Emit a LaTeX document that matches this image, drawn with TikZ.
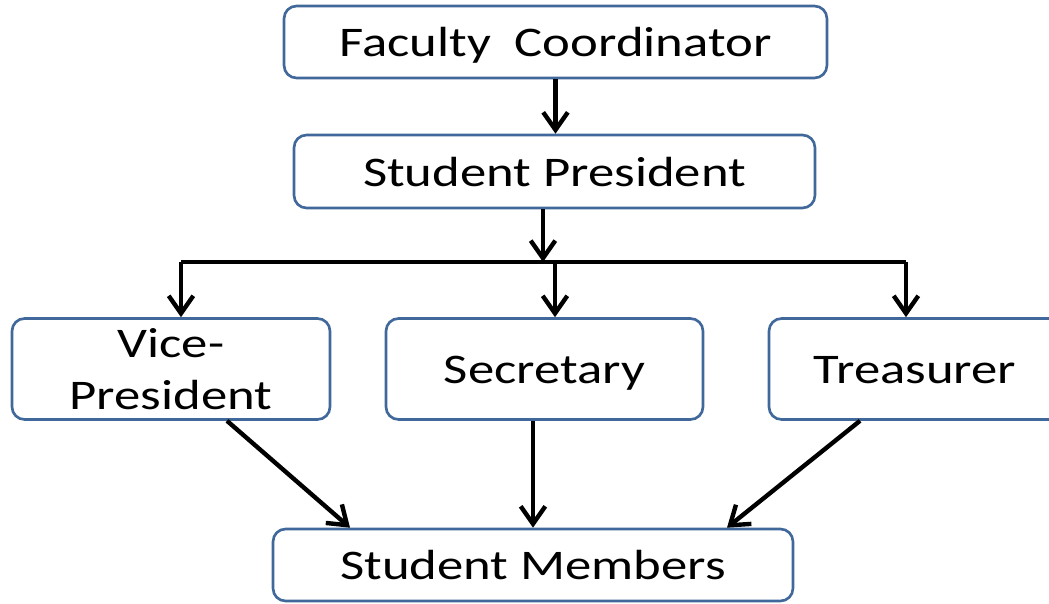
\documentclass[tikz,border=0pt]{standalone}
\usepackage{fontspec}
\setmainfont{Carlito}[FakeStretch=1.25]
\usepackage{xcolor}
\usepackage{tikz}
\usetikzlibrary{arrows.meta}
\usetikzlibrary{calc}
\definecolor{boxblue}{RGB}{65,104,155}
\tikzset{
    tnode/.style = {align=center, inner sep=0pt, text centered, font=\fontsize{24}{29.5}\selectfont},
    box_node/.style = {tnode, rectangle, rounded corners=0.25cm, draw=boxblue, fill=white, line width=1.5pt},
    one_line/.style = {text height=21.5pt, text depth=4.5pt},
    link/.style = {black, line width=2.5pt}
}

\begin{document}
\begin{tikzpicture}
    [x=0.02cm, y=-0.02cm,
    >={Straight Barb[length=10pt,width=14pt]}]
    \useasboundingbox (0,0) rectangle (1049,603);

    % boxes
    \node [box_node, one_line, minimum width=10.86cm, minimum height=1.44cm] (fac) at (555.5,42) {Faculty\ \ Coordinator};
    \node [box_node, one_line, minimum width=10.42cm, minimum height=1.46cm] (pres) at (554.5,171.5) {Student President};
    \node [box_node, minimum width=6.36cm, minimum height=2.02cm] (vp) at (171,369) {Vice-\\President};
    \node [box_node, one_line, minimum width=6.34cm, minimum height=2.02cm] (sec) at (544.5,369) {Secretary};
    \node [box_node, one_line, minimum width=5.84cm, minimum height=2.02cm] (tre) at (915,369) {Treasurer};
    \node [box_node, one_line, minimum width=10.40cm, minimum height=1.44cm] (mem) at (533,565) {Student Members};

    % bar under the president
    \coordinate (split) at (543,262);
    \coordinate (left_end) at (181,262);
    \coordinate (mid_drop) at (555,262);
    \coordinate (right_end) at (906,262);

    \draw [link, ->] (fac.south) -- (fac.south |- pres.north);
    \draw [link, ->] (pres.south -| split) -- (split);
    \draw [link] (left_end) -- (right_end);
    \draw [link, ->] (left_end) -- (left_end |- vp.north);
    \draw [link, ->] (mid_drop) -- (mid_drop |- sec.north);
    \draw [link, ->] (right_end) -- (right_end |- tre.north);

    % down to the members
    \draw [link, ->] ($(vp.south)+(56,0)$) -- ($(mem.north)+(-183,0)$);
    \draw [link, ->] (sec.south -| mem.north) -- (mem.north);
    \draw [link, ->] ($(tre.south)+(-55,0)$) -- ($(mem.north)+(194,0)$);
\end{tikzpicture}
\end{document}
